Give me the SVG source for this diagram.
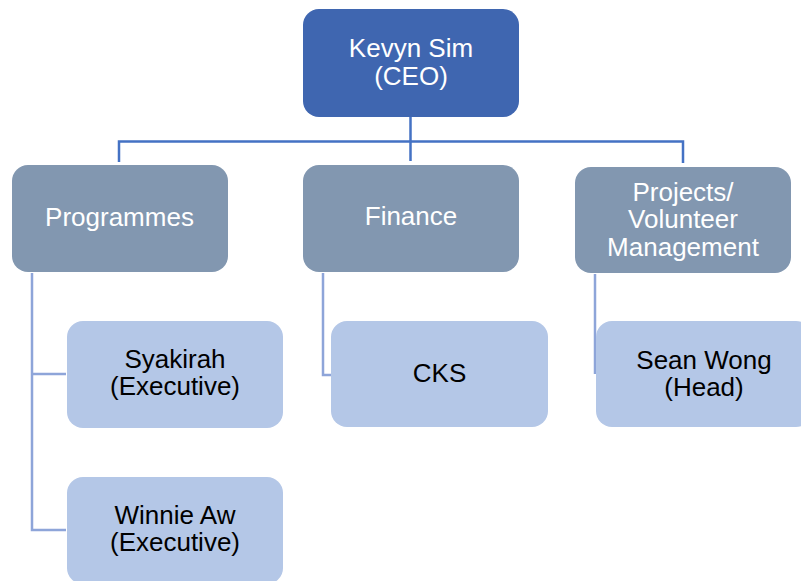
<svg xmlns="http://www.w3.org/2000/svg" width="801" height="581" viewBox="0 0 801 581">
<style>
.top{fill:#3F66B0}
.mid{fill:#8297B0}
.leaf{fill:#B4C7E7}
text{font-family:"Liberation Sans",Arial,sans-serif;font-size:26px;text-anchor:middle}
.w{fill:#FFFFFF}
.b{fill:#000000}
.c1{stroke:#4472C4;stroke-width:2.5;fill:none}
.c2{stroke:#8EA5D9;stroke-width:2.5;fill:none}
</style>
<rect width="801" height="581" fill="#FFFFFF"/>
<g id="connectors">
<path class="c1" d="M410.5 117 V161 M119 162 V141.5 H683 V163"/>
<path class="c2" d="M32 273 V374 H66 M32 374 V530 H66"/>
<path class="c2" d="M323 273 V375 H331"/>
<path class="c2" d="M595 274 V374"/>
</g>
<g id="ceo">
<rect class="top" x="303" y="9" width="216" height="108" rx="16"/>
<text class="w" x="411" y="57">Kevyn Sim</text>
<text class="w" x="411" y="84.5">(CEO)</text>
</g>
<g id="programmes">
<rect class="mid" x="12" y="165" width="216" height="107" rx="16"/>
<text class="w" x="119.5" y="226">Programmes</text>
</g>
<g id="finance">
<rect class="mid" x="303" y="165" width="216" height="107" rx="16"/>
<text class="w" x="411" y="225">Finance</text>
</g>
<g id="projects">
<rect class="mid" x="575" y="167" width="216" height="106" rx="16"/>
<text class="w" x="683" y="201">Projects/</text>
<text class="w" x="683" y="228">Volunteer</text>
<text class="w" x="683" y="256">Management</text>
</g>
<g id="syakirah">
<rect class="leaf" x="67" y="321" width="216" height="107" rx="16"/>
<text class="b" x="175" y="368">Syakirah</text>
<text class="b" x="175" y="395">(Executive)</text>
</g>
<g id="winnie">
<rect class="leaf" x="67" y="477" width="216" height="107" rx="16"/>
<text class="b" x="175" y="524">Winnie Aw</text>
<text class="b" x="175" y="551">(Executive)</text>
</g>
<g id="cks">
<rect class="leaf" x="331" y="321" width="217" height="106" rx="16"/>
<text class="b" x="439.5" y="382">CKS</text>
</g>
<g id="sean">
<rect class="leaf" x="596" y="321" width="216" height="106" rx="16"/>
<text class="b" x="704" y="369">Sean Wong</text>
<text class="b" x="704" y="396">(Head)</text>
</g>
</svg>
